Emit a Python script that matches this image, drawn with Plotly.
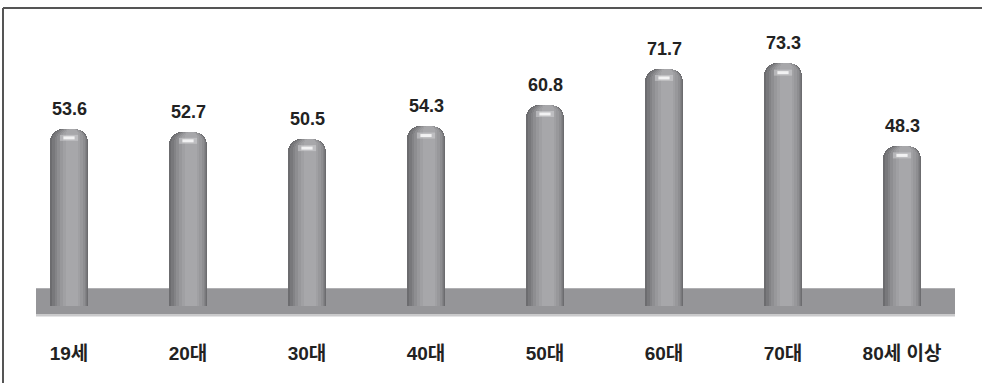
import plotly.graph_objects as go

categories = ["19세", "20대", "30대", "40대", "50대", "60대", "70대", "80세 이상"]
values = [53.6, 52.7, 50.5, 54.3, 60.8, 71.7, 73.3, 48.3]

FONT = "Liberation Sans, Arial, Noto Sans CJK KR, sans-serif"

# cylinder shading layers: (width, offset shift, color, corner radius)
layers = [
    (0.320, 0.000, "#6c6c6f", 13),
    (0.295, 0.006, "#78787b", 12),
    (0.265, 0.012, "#838386", 11),
    (0.230, 0.018, "#8e8e91", 10),
    (0.190, 0.022, "#98989b", 9),
    (0.145, 0.024, "#a0a0a3", 7),
    (0.095, 0.024, "#a7a7aa", 5),
]

fig = go.Figure()
for w, sh, col, r in layers:
    fig.add_trace(go.Bar(
        x=categories, y=values, width=w, offset=-w / 2 + sh,
        marker=dict(color=col, line=dict(width=0), cornerradius=r),
        hoverinfo="skip", showlegend=False,
    ))

# soft highlight on the cylinder cap
fig.add_trace(go.Scatter(
    x=categories, y=[v - 2.8 for v in values], mode="markers",
    marker=dict(symbol="line-ew", size=13, line=dict(width=6, color="rgba(220,220,222,0.45)")),
    hoverinfo="skip", showlegend=False,
))
fig.add_trace(go.Scatter(
    x=categories, y=[v - 2.8 for v in values], mode="markers",
    marker=dict(symbol="line-ew", size=8, line=dict(width=3, color="rgba(255,255,255,0.8)")),
    hoverinfo="skip", showlegend=False,
))

for c, v in zip(categories, values):
    fig.add_annotation(x=c, y=v, text=f"{v}", showarrow=False, yanchor="bottom",
                       yshift=8, font=dict(family=FONT, size=18, color="#222222", weight="bold"))

# floor band
fig.add_shape(type="rect", xref="paper", yref="y", x0=36 / 982, x1=955 / 982, y0=-2.6, y1=5.4,
              fillcolor="#959598", line=dict(width=0), layer="below")
fig.add_shape(type="line", xref="paper", yref="y", x0=36 / 982, x1=955 / 982, y0=-2.9, y1=-2.9,
              line=dict(color="#c9c9cb", width=2), layer="below")

# frame (top and left)
fig.add_shape(type="line", xref="paper", yref="paper", x0=3 / 982, x1=1, y0=1 - 8 / 383, y1=1 - 8 / 383,
              line=dict(color="#555555", width=2))
fig.add_shape(type="line", xref="paper", yref="paper", x0=3 / 982, x1=3 / 982, y0=0, y1=1 - 8 / 383,
              line=dict(color="#555555", width=2))

fig.update_layout(
    width=982, height=383, margin=dict(l=0, r=0, t=0, b=0),
    paper_bgcolor="white", plot_bgcolor="white",
    barmode="overlay", bargap=0,
    xaxis=dict(range=[-69 / 119, (982 - 69) / 119], showgrid=False, zeroline=False, showline=False,
               ticks="", tickfont=dict(family=FONT, size=19, color="#222222", weight="bold"),
               ticklabelstandoff=0),
    yaxis=dict(domain=[43 / 383, 1], range=[-34 / 3.31, 306 / 3.31], showgrid=False, zeroline=False,
               showline=False, showticklabels=False, ticks=""),
)

fig.write_html("out.html")
